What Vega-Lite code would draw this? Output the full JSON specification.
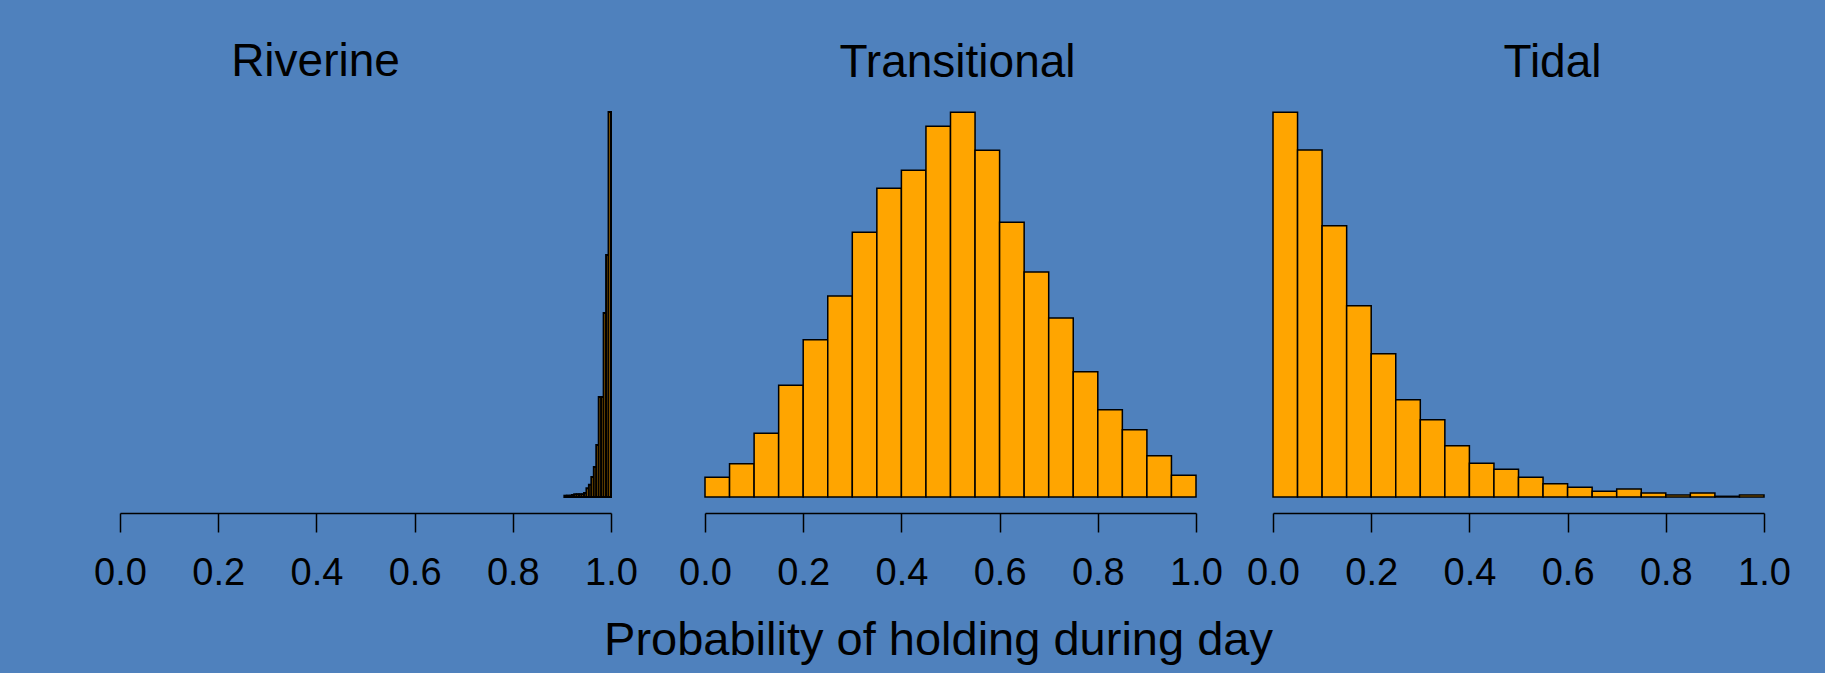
{
  "$schema": "https://vega.github.io/schema/vega-lite/v6.json",
  "background": "#4f81bd",
  "padding": {"left": 93, "top": 39, "right": 36, "bottom": 21},
  "config": {
    "font": "Liberation Sans",
    "view": {"stroke": null},
    "axis": {
      "labelFont": "Liberation Sans",
      "labelFontSize": 38,
      "labelColor": "black",
      "labelPadding": 22,
      "labelFlush": false,
      "labelOverlap": false,
      "domainColor": "black",
      "domainWidth": 1.5,
      "tickColor": "black",
      "tickWidth": 1.5,
      "tickSize": 19,
      "offset": 16,
      "grid": false
    },
    "title": {
      "font": "Liberation Sans",
      "fontSize": 46,
      "fontWeight": "normal",
      "color": "black",
      "baseline": "alphabetic",
      "offset": 25,
      "frame": "group",
      "anchor": "middle"
    }
  },
  "datasets": {
    "riverine": [
      {"lo": 0.905, "hi": 0.910, "n": 1.3},
      {"lo": 0.910, "hi": 0.915, "n": 1.3},
      {"lo": 0.915, "hi": 0.920, "n": 1.3},
      {"lo": 0.920, "hi": 0.925, "n": 2.0},
      {"lo": 0.925, "hi": 0.930, "n": 2.7},
      {"lo": 0.930, "hi": 0.935, "n": 2.7},
      {"lo": 0.935, "hi": 0.940, "n": 2.7},
      {"lo": 0.940, "hi": 0.945, "n": 2.7},
      {"lo": 0.945, "hi": 0.950, "n": 4.0},
      {"lo": 0.950, "hi": 0.955, "n": 8.7},
      {"lo": 0.955, "hi": 0.960, "n": 12.3},
      {"lo": 0.960, "hi": 0.965, "n": 20.0},
      {"lo": 0.965, "hi": 0.970, "n": 30.0},
      {"lo": 0.970, "hi": 0.975, "n": 52.0},
      {"lo": 0.975, "hi": 0.980, "n": 100.0},
      {"lo": 0.980, "hi": 0.985, "n": 100.0},
      {"lo": 0.985, "hi": 0.990, "n": 184.0},
      {"lo": 0.990, "hi": 0.995, "n": 242.0},
      {"lo": 0.995, "hi": 1.000, "n": 385.0}
    ],
    "transitional": [
      {"lo": 0.00, "hi": 0.05, "n": 19.7},
      {"lo": 0.05, "hi": 0.10, "n": 33.3},
      {"lo": 0.10, "hi": 0.15, "n": 63.7},
      {"lo": 0.15, "hi": 0.20, "n": 111.7},
      {"lo": 0.20, "hi": 0.25, "n": 157.3},
      {"lo": 0.25, "hi": 0.30, "n": 201.0},
      {"lo": 0.30, "hi": 0.35, "n": 264.7},
      {"lo": 0.35, "hi": 0.40, "n": 308.7},
      {"lo": 0.40, "hi": 0.45, "n": 326.7},
      {"lo": 0.45, "hi": 0.50, "n": 370.7},
      {"lo": 0.50, "hi": 0.55, "n": 384.7},
      {"lo": 0.55, "hi": 0.60, "n": 346.7},
      {"lo": 0.60, "hi": 0.65, "n": 274.7},
      {"lo": 0.65, "hi": 0.70, "n": 225.0},
      {"lo": 0.70, "hi": 0.75, "n": 179.0},
      {"lo": 0.75, "hi": 0.80, "n": 125.3},
      {"lo": 0.80, "hi": 0.85, "n": 87.3},
      {"lo": 0.85, "hi": 0.90, "n": 67.3},
      {"lo": 0.90, "hi": 0.95, "n": 41.3},
      {"lo": 0.95, "hi": 1.00, "n": 21.7}
    ],
    "tidal": [
      {"lo": 0.00, "hi": 0.05, "n": 384.7},
      {"lo": 0.05, "hi": 0.10, "n": 347.0},
      {"lo": 0.10, "hi": 0.15, "n": 271.3},
      {"lo": 0.15, "hi": 0.20, "n": 191.3},
      {"lo": 0.20, "hi": 0.25, "n": 143.3},
      {"lo": 0.25, "hi": 0.30, "n": 97.3},
      {"lo": 0.30, "hi": 0.35, "n": 77.3},
      {"lo": 0.35, "hi": 0.40, "n": 51.3},
      {"lo": 0.40, "hi": 0.45, "n": 33.7},
      {"lo": 0.45, "hi": 0.50, "n": 27.7},
      {"lo": 0.50, "hi": 0.55, "n": 19.7},
      {"lo": 0.55, "hi": 0.60, "n": 13.3},
      {"lo": 0.60, "hi": 0.65, "n": 9.7},
      {"lo": 0.65, "hi": 0.70, "n": 5.7},
      {"lo": 0.70, "hi": 0.75, "n": 8.0},
      {"lo": 0.75, "hi": 0.80, "n": 4.0},
      {"lo": 0.80, "hi": 0.85, "n": 2.0},
      {"lo": 0.85, "hi": 0.90, "n": 4.0},
      {"lo": 0.90, "hi": 0.95, "n": 0.7},
      {"lo": 0.95, "hi": 1.00, "n": 2.0}
    ]
  },
  "bounds": "flush",
  "spacing": 94,
  "hconcat": [
    {
      "data": {"name": "riverine"},
      "width": 491,
      "height": 385,
      "title": {"text": "Riverine", "dx": -50},
      "mark": {"type": "bar", "fill": "#ffa500", "stroke": "black", "strokeWidth": 2},
      "encoding": {
        "x": {"field": "lo", "type": "quantitative", "scale": {"domain": [0, 1], "nice": false, "zero": false},
              "axis": {"values": [0, 0.2, 0.4, 0.6, 0.8, 1.0], "format": ".1f", "title": null}},
        "x2": {"field": "hi"},
        "y": {"field": "n", "type": "quantitative", "scale": {"domain": [0, 385], "nice": false}, "axis": null},
        "y2": {"datum": 0}
      }
    },
    {
      "bounds": "flush",
      "spacing": 77,
      "hconcat": [
        {
          "data": {"name": "transitional"},
          "width": 491,
          "height": 385,
          "title": {"text": "Transitional", "dx": 7},
          "mark": {"type": "bar", "fill": "#ffa500", "stroke": "black", "strokeWidth": 1.5},
          "encoding": {
            "x": {"field": "lo", "type": "quantitative", "scale": {"domain": [0, 1], "nice": false, "zero": false},
                  "axis": {"values": [0, 0.2, 0.4, 0.6, 0.8, 1.0], "format": ".1f",
                           "title": "Probability of holding during day",
                           "titleFont": "Liberation Sans", "titleFontSize": 47, "titleFontWeight": "normal",
                           "titleColor": "black", "titleBaseline": "alphabetic", "titleAnchor": "middle",
                           "titleX": 233, "titleY": 141}},
            "x2": {"field": "hi"},
            "y": {"field": "n", "type": "quantitative", "scale": {"domain": [0, 385], "nice": false}, "axis": null},
            "y2": {"datum": 0}
          }
        },
        {
          "data": {"name": "tidal"},
          "width": 491,
          "height": 385,
          "title": {"text": "Tidal", "dx": 34},
          "mark": {"type": "bar", "fill": "#ffa500", "stroke": "black", "strokeWidth": 1.5},
          "encoding": {
            "x": {"field": "lo", "type": "quantitative", "scale": {"domain": [0, 1], "nice": false, "zero": false},
                  "axis": {"values": [0, 0.2, 0.4, 0.6, 0.8, 1.0], "format": ".1f", "title": null}},
            "x2": {"field": "hi"},
            "y": {"field": "n", "type": "quantitative", "scale": {"domain": [0, 385], "nice": false}, "axis": null},
            "y2": {"datum": 0}
          }
        }
      ]
    }
  ]
}
